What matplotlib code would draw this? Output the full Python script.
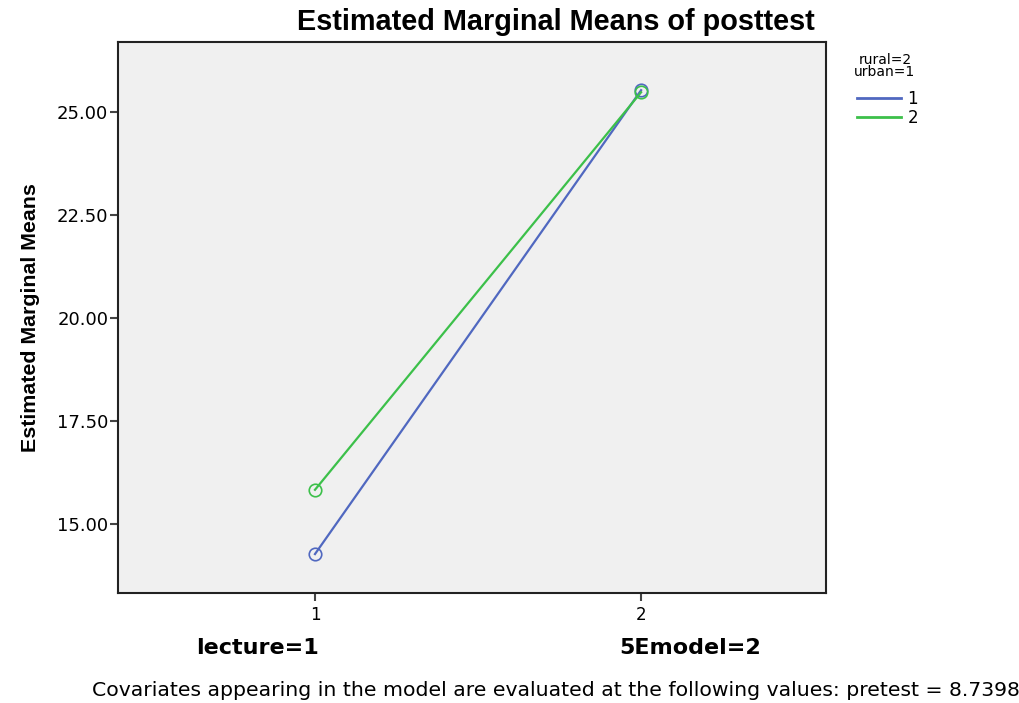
import matplotlib
matplotlib.use('Agg')
import matplotlib.pyplot as plt
from matplotlib.lines import Line2D

# data
levels = [1, 2]
means_1 = [14.27, 25.53]   # group 1 (blue)
means_2 = [15.83, 25.48]   # group 2 (green)
series_names = ['1', '2']
yticks = [15.0, 17.5, 20.0, 22.5, 25.0]
group_labels = ['lecture=1', '5Emodel=2']

plt.rcParams['font.family'] = ['DejaVu Sans']

fig = plt.figure(figsize=(10.2, 7.03), dpi=100)
ax = fig.add_axes([118/1020, 1-593/703, (826-118)/1020, (593-42)/703])
ax.set_facecolor('#f0f0f0')

blue = '#5068c0'
green = '#3cc04a'
ax.plot(levels, means_1, '-', color=blue, lw=1.6, marker='o', ms=9,
        mfc='none', mec=blue, mew=1.2)
ax.plot(levels, means_2, '-', color=green, lw=1.6, marker='o', ms=9,
        mfc='none', mec=green, mew=1.2)

ax.set_xlim(0.396, 2.567)
ax.set_ylim(13.325, 26.70)
ax.set_xticks(levels)
ax.set_xticklabels(['1', '2'], fontsize=12)
ax.set_yticks(yticks)
ax.set_yticklabels(['%.2f' % v for v in yticks], fontsize=13)
ax.tick_params(direction='out', length=6, width=1.5, color='#444444', pad=1)
ax.tick_params(axis='x', pad=3)
for s in ax.spines.values():
    s.set_linewidth(1.5)
    s.set_color('#222222')

ax.set_ylabel('Estimated Marginal Means', fontsize=15.4, fontweight='bold',
              family='Liberation Sans', labelpad=12)

fig.text(556/1020, 1-22/703, 'Estimated Marginal Means of posttest', ha='center',
         va='center', fontsize=20.8, fontweight='bold', family='Liberation Sans')

# legend to the right
fig.text(885/1020, 1-66/703, 'rural=2\nurban=1', ha='center', va='center',
         fontsize=10, linespacing=0.85)
handles = [Line2D([], [], color=blue, lw=2), Line2D([], [], color=green, lw=2)]
ax.legend(handles, series_names, loc='upper left', bbox_to_anchor=(1.035, 0.925),
          frameon=False, fontsize=12, handlelength=2.6, handletextpad=0.4,
          labelspacing=0.05, borderaxespad=0)

for xpos, lab in zip([258, 690], group_labels):
    fig.text(xpos/1020, 1-648/703, lab, ha='center', va='center',
             fontsize=16, fontweight='bold')

fig.text(92/1020, 1-690/703,
         'Covariates appearing in the model are evaluated at the following values: pretest = 8.7398',
         ha='left', va='center', fontsize=14.7)

fig.savefig('out.png', dpi=100)
